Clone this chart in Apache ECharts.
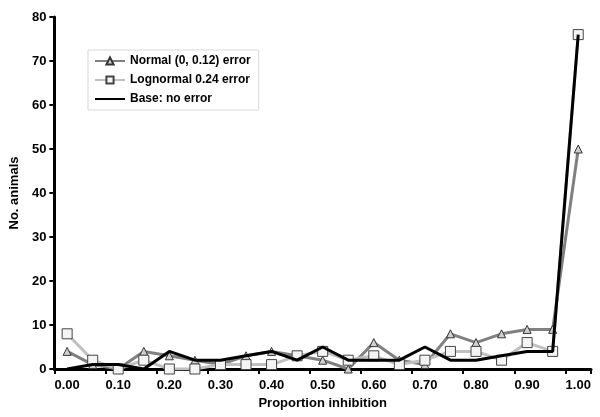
<!DOCTYPE html>
<html>
<head>
<meta charset="utf-8">
<script src="https://cdn.jsdelivr.net/npm/echarts@6/dist/echarts.min.js"></script>
<style>
  html, body { margin: 0; padding: 0; background: #fff; }
  #chart { width: 600px; height: 417px; }
</style>
</head>
<body>
<div id="chart"></div>
<script>
var categories = ['0.00', '0.05', '0.10', '0.15', '0.20', '0.25', '0.30', '0.35', '0.40', '0.45', '0.50',
  '0.55', '0.60', '0.65', '0.70', '0.75', '0.80', '0.85', '0.90', '0.95', '1.00']
var normalErr = [4, 1, 0, 4, 3, 2, 1, 3, 4, 3, 2, 0, 6, 2, 1, 8, 6, 8, 9, 9, 50]
var lognormalErr = [8, 2, 0, 2, 0, 0, 1, 1, 1, 3, 4, 2, 3, 1, 2, 4, 4, 2, 6, 4, 76]
var baseNoErr = [0, 1, 1, 0, 4, 2, 2, 3, 4, 2, 5, 2, 2, 2, 5, 2, 2, 3, 4, 4, 76]

var chart = echarts.init(document.getElementById('chart'))
var font = 'Liberation Sans, Arial, sans-serif'

var option = {
  animation: false,
  backgroundColor: '#fff',
  grid: { left: 50, right: 9, top: 17, bottom: 48 },
  legend: {
    orient: 'vertical',
    left: 88,
    top: 50,
    padding: [5, 8, 5, 6],
    itemGap: 7,
    itemWidth: 30,
    itemHeight: 9,
    borderColor: '#d8d8d8',
    borderWidth: 1,
    textStyle: { fontFamily: font, fontWeight: 'bold', fontSize: 12, color: '#000' },
    data: [
      { name: 'Normal (0, 0.12) error' },
      { name: 'Lognormal 0.24 error' },
      { name: 'Base: no error', itemStyle: { opacity: 0 } }
    ]
  },
  xAxis: {
    type: 'category',
    data: categories,
    boundaryGap: true,
    name: 'Proportion inhibition',
    nameLocation: 'middle',
    nameGap: 28,
    nameTextStyle: { fontFamily: font, fontWeight: 'bold', fontSize: 13, color: '#000' },
    axisLine: { lineStyle: { color: '#000', width: 3 } },
    axisTick: { show: true, length: 5, lineStyle: { color: '#000', width: 2 } },
    axisLabel: {
      interval: 1,
      margin: 10,
      fontFamily: font, fontWeight: 'bold', fontSize: 13, color: '#000'
    },
    splitLine: { show: false }
  },
  yAxis: {
    type: 'value',
    min: 0,
    max: 80,
    interval: 10,
    name: 'No. animals',
    nameLocation: 'middle',
    nameGap: 33,
    nameTextStyle: { fontFamily: font, fontWeight: 'bold', fontSize: 13, color: '#000' },
    axisLine: { show: true, lineStyle: { color: '#000', width: 3 } },
    axisTick: { show: true, length: 5, lineStyle: { color: '#000', width: 2 } },
    axisLabel: { margin: 8, fontFamily: font, fontWeight: 'bold', fontSize: 13, color: '#000' },
    splitLine: { show: false }
  },
  series: [
    {
      name: 'Normal (0, 0.12) error',
      type: 'line',
      data: normalErr,
      symbol: 'triangle',
      symbolSize: 8,
      lineStyle: { color: '#808080', width: 3 },
      itemStyle: { color: '#d0d0d0', borderColor: '#333', borderWidth: 1 },
      z: 2
    },
    {
      name: 'Lognormal 0.24 error',
      type: 'line',
      data: lognormalErr,
      symbol: 'rect',
      symbolSize: 10,
      lineStyle: { color: '#c0c0c0', width: 3 },
      itemStyle: { color: '#f4f4f4', borderColor: '#444', borderWidth: 1 },
      z: 3
    },
    {
      name: 'Base: no error',
      type: 'line',
      data: baseNoErr,
      symbol: 'none',
      lineStyle: { color: '#000', width: 3 },
      itemStyle: { color: '#000' },
      z: 4
    }
  ]
}

option && chart.setOption(option)
</script>
</body>
</html>
